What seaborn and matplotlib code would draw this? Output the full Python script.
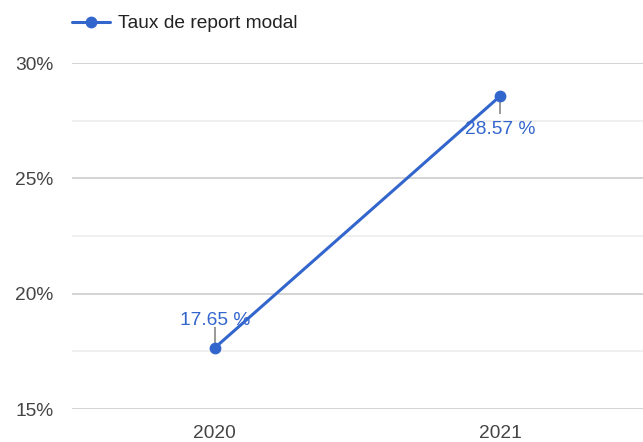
import matplotlib.pyplot as plt
import seaborn as sns
import pandas as pd
from matplotlib.lines import Line2D

years = ["2020", "2021"]
rates = [17.65, 28.57]
labels = ["17.65 %", "28.57 %"]
series_name = "Taux de report modal"

df = pd.DataFrame({"year": years, "rate": rates})

sns.set_style("white")
plt.rcParams['font.family'] = ['Liberation Sans', 'DejaVu Sans']

blue = "#3366CC"
fs = 13.8
fig = plt.figure(figsize=(6.43, 4.42), dpi=100)
ax = fig.add_axes([72 / 643, 1 - 409 / 442, 571 / 643, 346 / 442])

sns.lineplot(data=df, x="year", y="rate", ax=ax, color=blue, linewidth=2.2,
             marker="o", markersize=8.5, markeredgewidth=0, sort=False, zorder=5)

ax.set_xlim(-0.5, 1.5)
ax.set_ylim(15, 30)
ax.set_yticks([15, 20, 25, 30])
ax.set_yticklabels([f"{v}%" for v in [15, 20, 25, 30]])
ax.set_yticks([17.5, 22.5, 27.5], minor=True)
ax.grid(axis="y", which="major", color="#cccccc", linewidth=1.2, zorder=0)
ax.grid(axis="y", which="minor", color="#ebebeb", linewidth=1.1, zorder=0)
ax.grid(axis="x", visible=False)
for s in ax.spines.values():
    s.set_visible(False)
ax.tick_params(axis="both", which="both", length=0, labelsize=fs, labelcolor="#444444")
ax.tick_params(axis="y", pad=13.5)
ax.tick_params(axis="x", pad=11.5)
ax.set_xlabel("")
ax.set_ylabel("")

# annotations with stems: first label above, second below
for i, (v, lab) in enumerate(zip(rates, labels)):
    if i == 0:
        stem = (v + 0.2, v + 0.9)
        ty = v + 1.2
    else:
        stem = (v - 0.2, v - 0.8)
        ty = v - 1.45
    ax.plot([i, i], stem, color="#999999", lw=1.4, zorder=4, solid_capstyle="butt")
    ax.text(i, ty, lab, ha="center", va="center", color=blue,
            fontsize=fs, zorder=6)

handle = Line2D([], [], color=blue, linewidth=2.2, marker="o", markersize=8.5,
                markeredgewidth=0)
leg = fig.legend([handle], [series_name], loc="upper left",
                 bbox_to_anchor=(72 / 643, 1 - 15 / 442), frameon=False,
                 fontsize=fs, handlelength=1.98, handletextpad=0.42,
                 borderpad=0, borderaxespad=0)
for t in leg.get_texts():
    t.set_color("#222222")

fig.savefig("out.png", dpi=100)
